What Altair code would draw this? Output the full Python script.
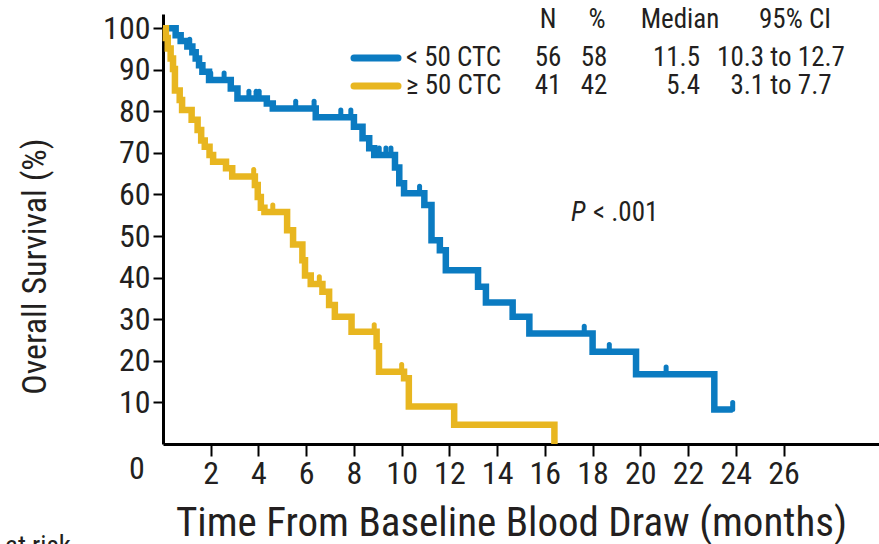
import altair as alt
import pandas as pd

# ---- data ----
blue_t = [0, 0.53, 0.74, 1.02, 1.23, 1.37, 1.51, 1.65, 1.93, 2.84, 3.12, 4.35, 4.6, 6.4, 8.0,
          8.36, 8.64, 8.85, 9.72, 9.9, 10.1, 10.95, 11.25, 11.6, 11.85, 13.2, 13.53, 14.65,
          15.35, 18.0, 19.82, 23.1, 23.87]
blue_s = [100, 98.3, 96.9, 95.6, 94.2, 92.7, 91.1, 89.5, 87.5, 85.5, 83.1, 81.9, 80.7, 78.6, 76.3,
          73.5, 71.1, 69.5, 66.5, 62.7, 60.3, 57.5, 49.0, 46.6, 41.8, 37.8, 34.0, 30.6,
          26.6, 22.2, 16.8, 8.3, 8.3]
yellow_t = [0, 0.12, 0.2, 0.32, 0.42, 0.5, 0.7, 0.8, 1.2, 1.45, 1.6, 1.75, 1.95, 2.1, 2.64, 2.9,
            3.85, 3.97, 4.1, 4.25, 5.2, 5.45, 5.84, 5.95, 6.19, 6.68, 6.96, 7.2, 7.9, 8.95, 9.05,
            10.1, 10.3, 12.2, 16.4]
yellow_s = [100, 97.6, 95.1, 92.7, 90.2, 85.0, 82.7, 80.3, 78.0, 75.5, 73.0, 71.5, 69.5, 67.9, 66.3, 64.3,
            62.3, 59.4, 56.8, 55.8, 51.4, 48.0, 44.2, 40.5, 38.5, 36.6, 33.4, 30.6, 27.0, 23.5, 17.4,
            15.8, 9.0, 4.6, 0]
blue_cens_t = [1.12, 2.0, 2.56, 3.6, 3.9, 4.03, 5.56, 6.33, 7.45, 7.87, 9.06, 9.34, 9.55, 10.75,
               17.65, 18.7, 21.08, 23.87]
blue_cens_s = [95.6, 87.5, 87.5, 83.1, 83.1, 83.1, 80.7, 80.7, 78.6, 78.6, 69.5, 69.5, 69.5, 60.3,
               26.6, 22.2, 16.8, 8.3]
yellow_cens_t = [3.8, 4.6, 6.55, 8.85, 10.0]
yellow_cens_s = [64.3, 55.8, 38.5, 27.0, 17.4]

groups = ["< 50 CTC", "\u2265 50 CTC"]
n_vals = ["56", "41"]
pct_vals = ["58", "42"]
median_vals = ["11.5", "5.4"]
ci_vals = ["10.3 to 12.7", "3.1 to 7.7"]
header = ["N", "%", "Median", "95% CI"]
x_ticks = list(range(2, 27, 2))
y_ticks = list(range(10, 101, 10))

colors = ["#0b7bc1", "#e8b620"]
FONT = "Roboto Condensed, Liberation Sans Narrow, DejaVu Sans Condensed, Arial Narrow, sans-serif"
TXT = "#231f20"

curve = pd.concat([
    pd.DataFrame({"t": blue_t, "s": blue_s, "group": groups[0], "k": 0}),
    pd.DataFrame({"t": yellow_t, "s": yellow_s, "group": groups[1], "k": 1}),
])
cens = pd.concat([
    pd.DataFrame({"t": blue_cens_t, "s": blue_cens_s, "group": groups[0]}),
    pd.DataFrame({"t": yellow_cens_t, "s": yellow_cens_s, "group": groups[1]}),
])
cens["s2"] = cens["s"] + 1.7

xs = alt.Scale(domain=[0, 30], nice=False, zero=False)
ys = alt.Scale(domain=[0, 103.4], nice=False)
cs = alt.Scale(domain=groups, range=colors)

lines = alt.Chart(curve).mark_line(
    interpolate="step-after", strokeWidth=6.5, strokeJoin="miter", strokeCap="butt"
).encode(
    x=alt.X("t:Q", scale=xs, axis=alt.Axis(
        values=x_ticks, title="Time From Baseline Blood Draw (months)", titleFontSize=41,
        titleX=348, titleY=91, titleBaseline="alphabetic", titleAlign="center",
        labelPadding=2, tickSize=12)),
    y=alt.Y("s:Q", scale=ys, axis=alt.Axis(
        values=y_ticks, title="Overall Survival (%)", titleFontSize=34,
        titleX=-128, titleY=252, titleBaseline="middle", titleAlign="center", titleAngle=-90,
        labelPadding=3, tickSize=10)),
    color=alt.Color("group:N", scale=cs, legend=None),
    detail="k:N",
    order="t:Q",
)

ticks = alt.Chart(cens).mark_rule(strokeWidth=5, strokeCap="round").encode(
    x="t:Q", y="s:Q", y2="s2:Q",
    color=alt.Color("group:N", scale=cs, legend=None),
)

layers = [lines, ticks]

def txt(text, x, y, align="left", italic=False, size=27):
    return alt.Chart(pd.DataFrame({"v": [text]})).mark_text(
        align=align, baseline="middle", fontSize=size, font=FONT, color=TXT,
        fontStyle="italic" if italic else "normal"
    ).encode(text="v:N", x=alt.value(x), y=alt.value(y))

# legend header
hx = [385, 434, 517, 632]
for h, x in zip(header, hx):
    layers.append(txt(h, x, 6, "center"))
row_y = [44, 72]
for i in range(2):
    layers.append(alt.Chart(pd.DataFrame({"g": [groups[i]]})).mark_rule(
        strokeWidth=7, strokeCap="round").encode(
        x=alt.value(191), x2=alt.value(235), y=alt.value(row_y[i]),
        color=alt.Color("g:N", scale=cs, legend=None)))
    layers.append(txt(groups[i], 243, row_y[i], "left"))
    layers.append(txt(n_vals[i], 385, row_y[i], "center"))
    layers.append(txt(pct_vals[i], 431, row_y[i], "center"))
    layers.append(txt(median_vals[i], 537, row_y[i], "right"))
    layers.append(txt(ci_vals[i], 618, row_y[i], "center"))

layers.append(txt("P", 408, 199, "left", italic=True, size=27))
layers.append(txt("< .001", 430, 199, "left", size=27))
layers.append(txt("0", -26, 455, "center", size=32))
layers.append(txt("at risk", -158, 533, "left", size=27))

chart = alt.layer(*layers).properties(
    width=716, height=430,
    autosize=alt.AutoSizeParams(type="none"),
    padding={"left": 163, "top": 14, "right": 0, "bottom": 100},
).configure_view(stroke=None).configure_axis(
    grid=False, domainColor="black", domainWidth=3, tickColor="black", tickWidth=2,
    labelFont=FONT, labelFontSize=32, labelColor=TXT, titleFont=FONT, titleColor=TXT,
    titleFontWeight="normal",
)

chart.save("out.html", embed_options={"renderer": "svg", "actions": False})
